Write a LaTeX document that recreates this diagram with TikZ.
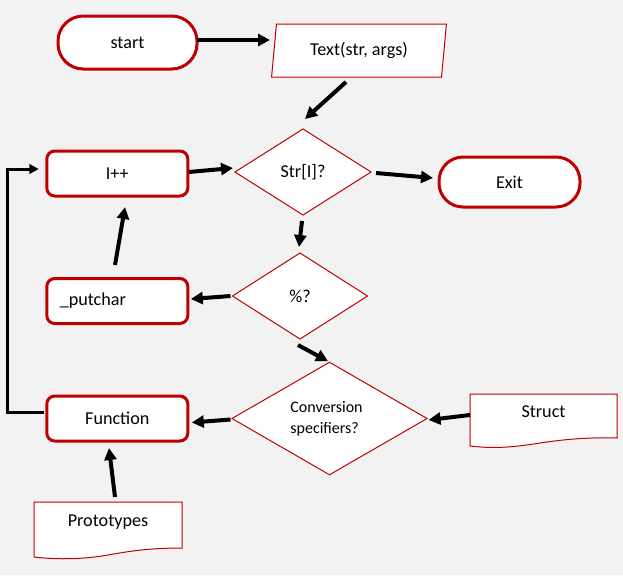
\documentclass[tikz,border=0pt]{standalone}
\usepackage{fontspec}
\setmainfont{Carlito}
\usetikzlibrary{arrows.meta,shapes.geometric,calc}
\definecolor{bg}{HTML}{F2F2F2}
\definecolor{dred}{HTML}{C00000}
\tikzset{
  base/.style={fill=white, outer sep=0pt, inner sep=0pt, font=\fontsize{13.6pt}{16pt}\selectfont},
  term/.style={base, draw=dred, line width=2.25pt, rounded corners=18pt},
  procbox/.style={base, draw=dred, line width=2.25pt, rounded corners=6pt, minimum width=105.75pt, minimum height=33.75pt},
  decision/.style={base, draw=dred, line width=0.75pt, shape=diamond},
  iobox/.style={base, draw=dred, line width=0.75pt, shape=trapezium, trapezium left angle=80, trapezium right angle=100, trapezium stretches=true, minimum width=132pt, minimum height=39.75pt},
  docbox/.style={base, fill=none, minimum height=27pt},
  docline/.style={draw=dred, line width=0.75pt, fill=white},
  arr/.style={line width=3pt, -{Triangle[length=9pt,width=9pt]}},
  looparr/.style={line width=2.25pt, -{Triangle[length=7pt,width=7pt]}},
}
\begin{document}
\begin{tikzpicture}[x=0.75pt, y=-0.75pt]
\useasboundingbox (0,0) rectangle (623,575);
\fill[bg] (0,0) rectangle (623,575);

% terminals
\node[term, minimum width=104.25pt, minimum height=39.75pt, rounded corners=19pt] (start) at (127.5,42.5) {start};
\node[term, minimum width=105.75pt, minimum height=37.5pt] (exit) at (509.5,182) {Exit};

% input
\node[iobox] (txt) at (359,50.5) {Text(str, args)};

% process boxes
\node[procbox] (ipp) at (117.3,173.5) {I++};
\node[procbox, text width=86.25pt, align=left] (putchar) at (117.3,301) {\_putchar};
\node[procbox] (func) at (117.3,418.5) {Function};

% decisions
\node[decision, minimum width=102pt, minimum height=64.5pt] (str) at (303,172) {Str[I]?};
\node[decision, minimum width=101.25pt, minimum height=64.5pt] (pct) at (300,296) {\%?};
\node[decision, minimum width=146.25pt, minimum height=80.25pt, align=left, font=\fontsize{12pt}{15.5pt}\selectfont] (conv) at (329.5,418.5) {Conversion\hspace*{4.5pt}\\specifiers?};

% documents
\node[docbox, anchor=north, minimum width=110.25pt] (struct) at (543.5,394) {};
\draw[docline] (struct.north west) -- (struct.north east) -- ([shift={(0,44)}]struct.north east)
  .. controls ([shift={(115,43)}]struct.north west) and ([shift={(90,46)}]struct.north west) .. ([shift={(70,49)}]struct.north west)
  .. controls ([shift={(45,53)}]struct.north west) and ([shift={(25,55)}]struct.north west) .. ([shift={(0,52)}]struct.north west) -- cycle;
\node[docbox, anchor=center] at (struct.center) {Struct};

\node[docbox, anchor=north, minimum width=111pt] (proto) at (108,502) {};
\draw[docline] (proto.north west) -- (proto.north east) -- ([shift={(0,46)}]proto.north east)
  .. controls ([shift={(116,46)}]proto.north west) and ([shift={(96,49)}]proto.north west) .. ([shift={(74,53)}]proto.north west)
  .. controls ([shift={(51,57)}]proto.north west) and ([shift={(26,58)}]proto.north west) .. ([shift={(0,55)}]proto.north west) -- cycle;
\node[docbox, anchor=center] at ([yshift=-1.5pt]proto.center) {Prototypes};

% connectors
\draw[arr] ([shift={(0,-2.5)}]start.east) -- ([shift={(-89,-10.5)}]txt.center);
\draw[arr] ([shift={(-13,31.5)}]txt.center) -- ([shift={(2,-10)}]str.north);
\draw[arr] ([shift={(1,-1.5)}]ipp.east) -- ([shift={(-2,-4)}]str.west);
\draw[arr] ([shift={(5,1)}]str.east) -- ([shift={(-6,-4)}]exit.west);
\draw[arr] ([shift={(-1,6)}]str.south) -- ([shift={(-1,-6)}]pct.north);
\draw[arr] ([shift={(-2,0)}]pct.west) -- ([shift={(3,-2)}]putchar.east);
\draw[arr] ([shift={(-2.3,-13.5)}]putchar.north) -- ([shift={(7.7,11)}]ipp.south);
\draw[arr] ([shift={(-2,6)}]pct.south) -- ([shift={(-1.5,-1)}]conv.north);
\draw[arr] ([shift={(-1.5,1)}]conv.west) -- ([shift={(4,4)}]func.east);
\draw[arr] ([shift={(0,3)}]struct.west) -- ([shift={(1.5,1.5)}]conv.east);
\draw[arr] ([shift={(7,-5)}]proto.north) -- ([shift={(-8.3,7)}]func.south);
\draw[looparr] ([shift={(-2.8,-6)}]func.west) -- ++(-37,0) |- ([shift={(-8,-4.5)}]ipp.west);
\end{tikzpicture}
\end{document}
